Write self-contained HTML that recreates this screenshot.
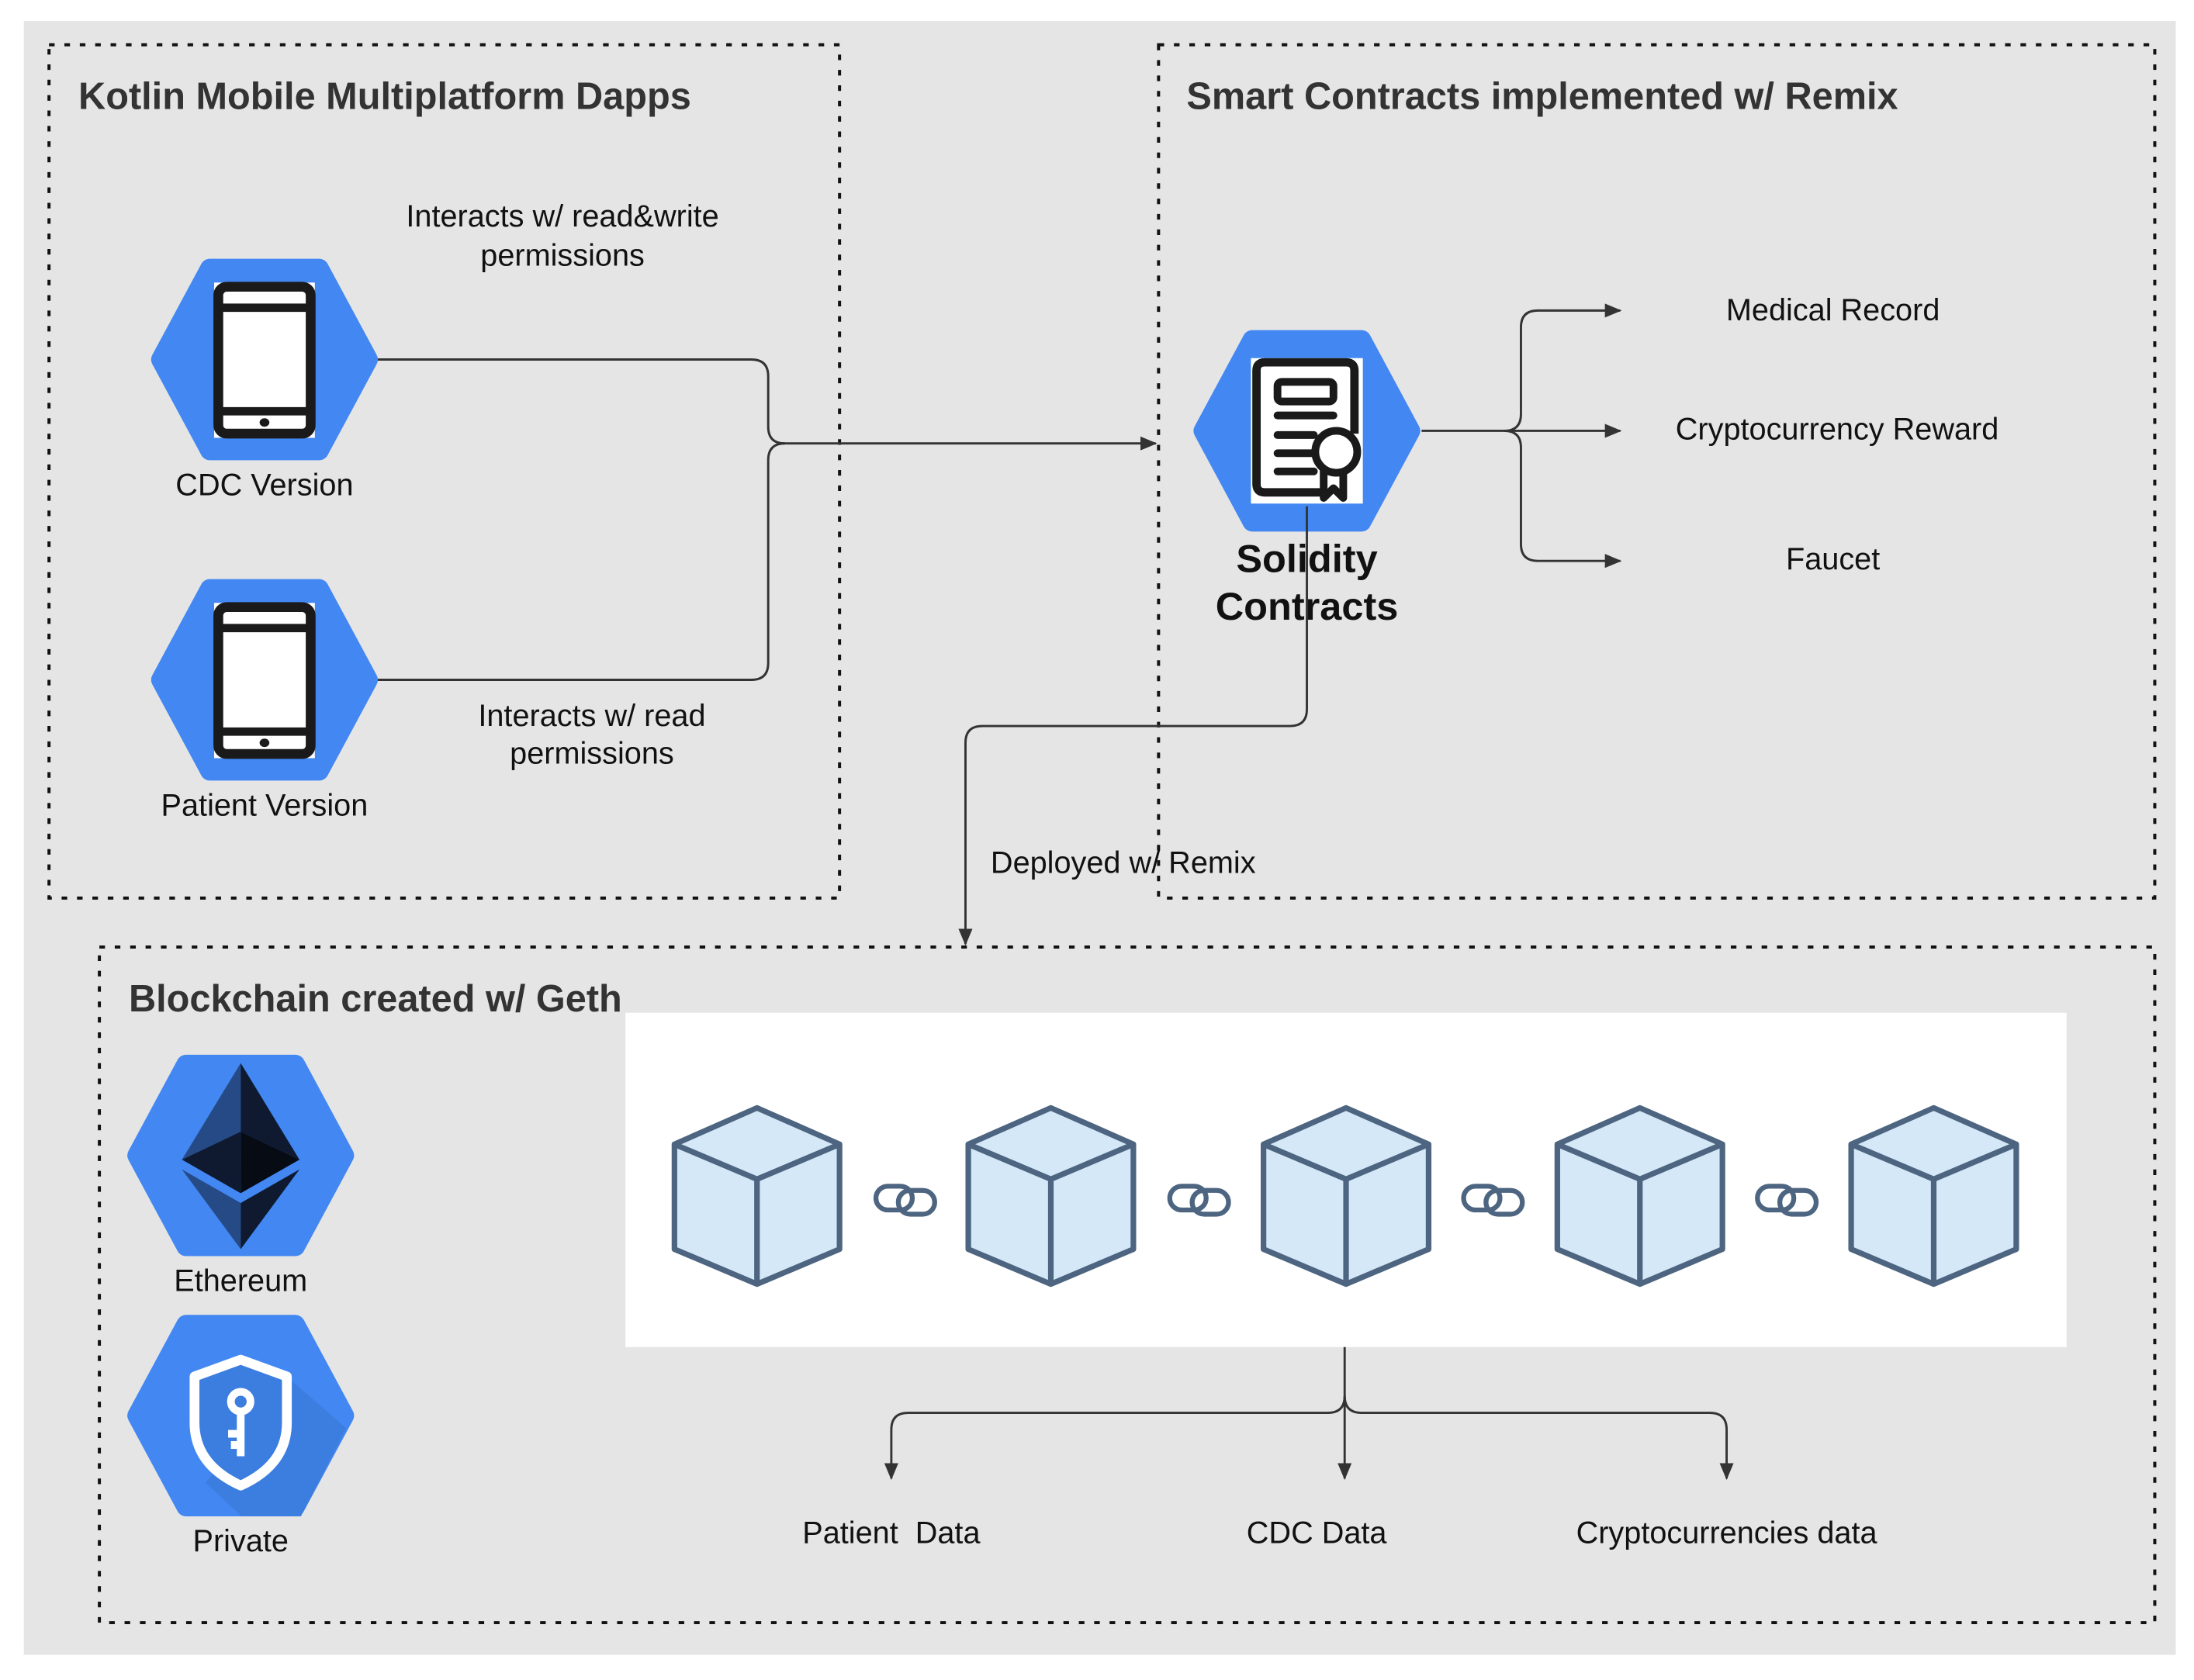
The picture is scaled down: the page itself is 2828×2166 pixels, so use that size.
<!DOCTYPE html>
<html><head><meta charset="utf-8"><style>
html,body{margin:0;padding:0;background:#fff;}
svg{display:block;}
text{font-family:"Liberation Sans",sans-serif;fill:#111;}
.t{font-size:22px;text-anchor:middle;}
.h{font-size:27px;font-weight:bold;fill:#333;}
.box{fill:none;stroke:#111;stroke-width:2.2;stroke-dasharray:4 7;}
.ln{fill:none;stroke:#333;stroke-width:1.6;}
.cube{fill:#d5e8f7;stroke:#4d6580;stroke-width:4;stroke-linejoin:round;}
.hex{fill:#4287f2;stroke:#4287f2;stroke-width:14;stroke-linejoin:round;}
</style></head><body>
<svg width="2828" height="2166" viewBox="0 0 1568 1201" xmlns="http://www.w3.org/2000/svg">
<defs>
<marker id="a" markerWidth="12" markerHeight="10" refX="11" refY="5" orient="auto" markerUnits="userSpaceOnUse">
<path d="M0,0 L12,5 L0,10 Z" fill="#333"/></marker>
<g id="hex"><path class="hex" d="M-74,0 L-39,-65 L39,-65 L74,0 L39,65 L-39,65 Z"/></g>
<clipPath id="hc"><path d="M-80,0 L-43,-72 L43,-72 L80,0 L43,72 L-43,72 Z"/></clipPath>
<g id="tab">
<rect x="-36" y="-55" width="72" height="111" fill="#fff"/>
<rect x="-33" y="-52" width="66" height="105" rx="6" fill="none" stroke="#1a1a1a" stroke-width="7"/>
<line x1="-33" y1="-37" x2="33" y2="-37" stroke="#1a1a1a" stroke-width="6"/>
<line x1="-33" y1="37" x2="33" y2="37" stroke="#1a1a1a" stroke-width="6"/>
<ellipse cx="0" cy="45" rx="3.5" ry="3" fill="#1a1a1a"/>
</g>
<g id="cube">
<path class="cube" d="M0,-63 L59,-37 L59,38 L0,63 L-59,38 L-59,-37 Z"/>
<path class="cube" style="fill:none" d="M-59,-37 L0,-12 L59,-37 M0,-12 L0,63"/>
</g>
<g id="link" fill="none" stroke="#4d6580" stroke-width="3.5">
<rect x="-21" y="-9" width="26" height="17" rx="8.5"/>
<rect x="-5" y="-6" width="26" height="17" rx="8.5"/>
</g>
</defs>
<rect x="0" y="0" width="1568" height="1201" fill="#fff"/>
<rect x="17" y="15" width="1538" height="1168" fill="#e5e5e5"/>
<rect class="box" x="35" y="32" width="565" height="610"/>
<rect class="box" x="828" y="32" width="712" height="610"/>
<rect class="box" x="71" y="677" width="1469" height="483"/>
<text class="h" x="56" y="78">Kotlin Mobile Multiplatform Dapps</text>
<text class="h" x="848" y="78">Smart Contracts implemented w/ Remix</text>
<text class="h" x="92" y="723">Blockchain created w/ Geth</text>

<use href="#hex" x="189" y="257"/><use href="#tab" x="189" y="257"/>
<use href="#hex" x="189" y="486"/><use href="#tab" x="189" y="486"/>
<text class="t" x="189" y="354">CDC Version</text>
<text class="t" x="189" y="583">Patient Version</text>
<text class="t" x="402" y="162">Interacts w/ read&amp;write</text>
<text class="t" x="402" y="190">permissions</text>
<text class="t" x="423" y="519">Interacts w/ read</text>
<text class="t" x="423" y="546">permissions</text>

<path class="ln" d="M270,257 L537,257 Q549,257 549,269 L549,305 Q549,317 561,317"/>
<path class="ln" d="M270,486 L537,486 Q549,486 549,474 L549,329 Q549,317 561,317"/>
<path class="ln" marker-end="url(#a)" d="M555,317 L826,317"/>

<use href="#hex" x="934" y="308"/>
<g transform="translate(934,308)">
<rect x="-40" y="-52" width="80" height="104" fill="#fff"/>
<path d="M15,44 L-30,44 Q-36,44 -36,38 L-36,-43 Q-36,-49 -30,-49 L28,-49 Q34,-49 34,-43 L34,2" fill="none" stroke="#1a1a1a" stroke-width="6"/>
<rect x="-21" y="-35" width="40" height="14" rx="3" fill="none" stroke="#1a1a1a" stroke-width="5.5"/>
<g stroke="#1a1a1a" stroke-width="5.5" stroke-linecap="round">
<line x1="-21" y1="-11" x2="19" y2="-11"/><line x1="-21" y1="3" x2="5" y2="3"/>
<line x1="-21" y1="16" x2="5" y2="16"/><line x1="-21" y1="29" x2="5" y2="29"/></g>
<path d="M12,28 L12,48 L19,41 L26,48 L26,28" fill="#fff" stroke="#1a1a1a" stroke-width="5.5" stroke-linejoin="round"/>
<circle cx="21" cy="15" r="15" fill="#fff" stroke="#1a1a1a" stroke-width="5.5"/>
</g>
<text x="934" y="409" style="font-size:28px;font-weight:bold;text-anchor:middle">Solidity</text>
<text x="934" y="443" style="font-size:28px;font-weight:bold;text-anchor:middle">Contracts</text>

<path class="ln" marker-end="url(#a)" d="M1016,308 L1158,308"/>
<path class="ln" marker-end="url(#a)" d="M1075,308 Q1087,308 1087,296 L1087,234 Q1087,222 1099,222 L1158,222"/>
<path class="ln" marker-end="url(#a)" d="M1075,308 Q1087,308 1087,320 L1087,389 Q1087,401 1099,401 L1158,401"/>
<text class="t" x="1310" y="229">Medical Record</text>
<text class="t" x="1313" y="314">Cryptocurrency Reward</text>
<text class="t" x="1310" y="407">Faucet</text>

<path class="ln" marker-end="url(#a)" d="M934,362 L934,507 Q934,519 922,519 L702,519 Q690,519 690,531 L690,675"/>
<text x="708" y="624" style="font-size:22px">Deployed w/ Remix</text>

<use href="#hex" x="172" y="826"/>
<g transform="translate(172,826)">
<polygon points="0,-66 -42,3 0,-17" fill="#264a85"/>
<polygon points="0,-66 42,3 0,-17" fill="#0f1a30"/>
<polygon points="-42,3 0,-17 0,27" fill="#0f1a30"/>
<polygon points="42,3 0,-17 0,27" fill="#070b14"/>
<polygon points="-42,10 0,34 0,67" fill="#264a85"/>
<polygon points="42,10 0,34 0,67" fill="#0f1a30"/>
</g>
<use href="#hex" x="172" y="1012"/>
<g transform="translate(172,1012)">
<path clip-path="url(#hc)" d="M33,-28 L120,48 L120,90 L20,90 L-25,48 Z" fill="#3c7de0"/>
<path d="M0,-40 L-33,-28 L-33,5 Q-33,35 0,50 Q33,35 33,5 L33,-28 Z" fill="#3c7de0" stroke="#fff" stroke-width="7" stroke-linejoin="round"/>
<circle cx="0" cy="-10" r="7" fill="none" stroke="#fff" stroke-width="5.5"/>
<path d="M0,-3 L0,29 M0,13 L-9,13 M0,21 L-7,21" stroke="#fff" stroke-width="5.5" fill="none"/>
</g>
<text class="t" x="172" y="923">Ethereum</text>
<text class="t" x="172" y="1109">Private</text>

<rect x="447" y="724" width="1030" height="239" fill="#fff"/>
<use href="#cube" x="541" y="855"/><use href="#cube" x="751" y="855"/>
<use href="#cube" x="962" y="855"/><use href="#cube" x="1172" y="855"/>
<use href="#cube" x="1382" y="855"/>
<use href="#link" x="647" y="857"/><use href="#link" x="857" y="857"/>
<use href="#link" x="1067" y="857"/><use href="#link" x="1277" y="857"/>

<path class="ln" marker-end="url(#a)" d="M961,963 L961,1057"/>
<path class="ln" marker-end="url(#a)" d="M961,998 Q961,1010 949,1010 L649,1010 Q637,1010 637,1022 L637,1057"/>
<path class="ln" marker-end="url(#a)" d="M961,998 Q961,1010 973,1010 L1222,1010 Q1234,1010 1234,1022 L1234,1057"/>
<text class="t" x="637" y="1103" style="white-space:pre">Patient  Data</text>
<text class="t" x="941" y="1103">CDC Data</text>
<text class="t" x="1234" y="1103">Cryptocurrencies data</text>
</svg>
</body></html>
